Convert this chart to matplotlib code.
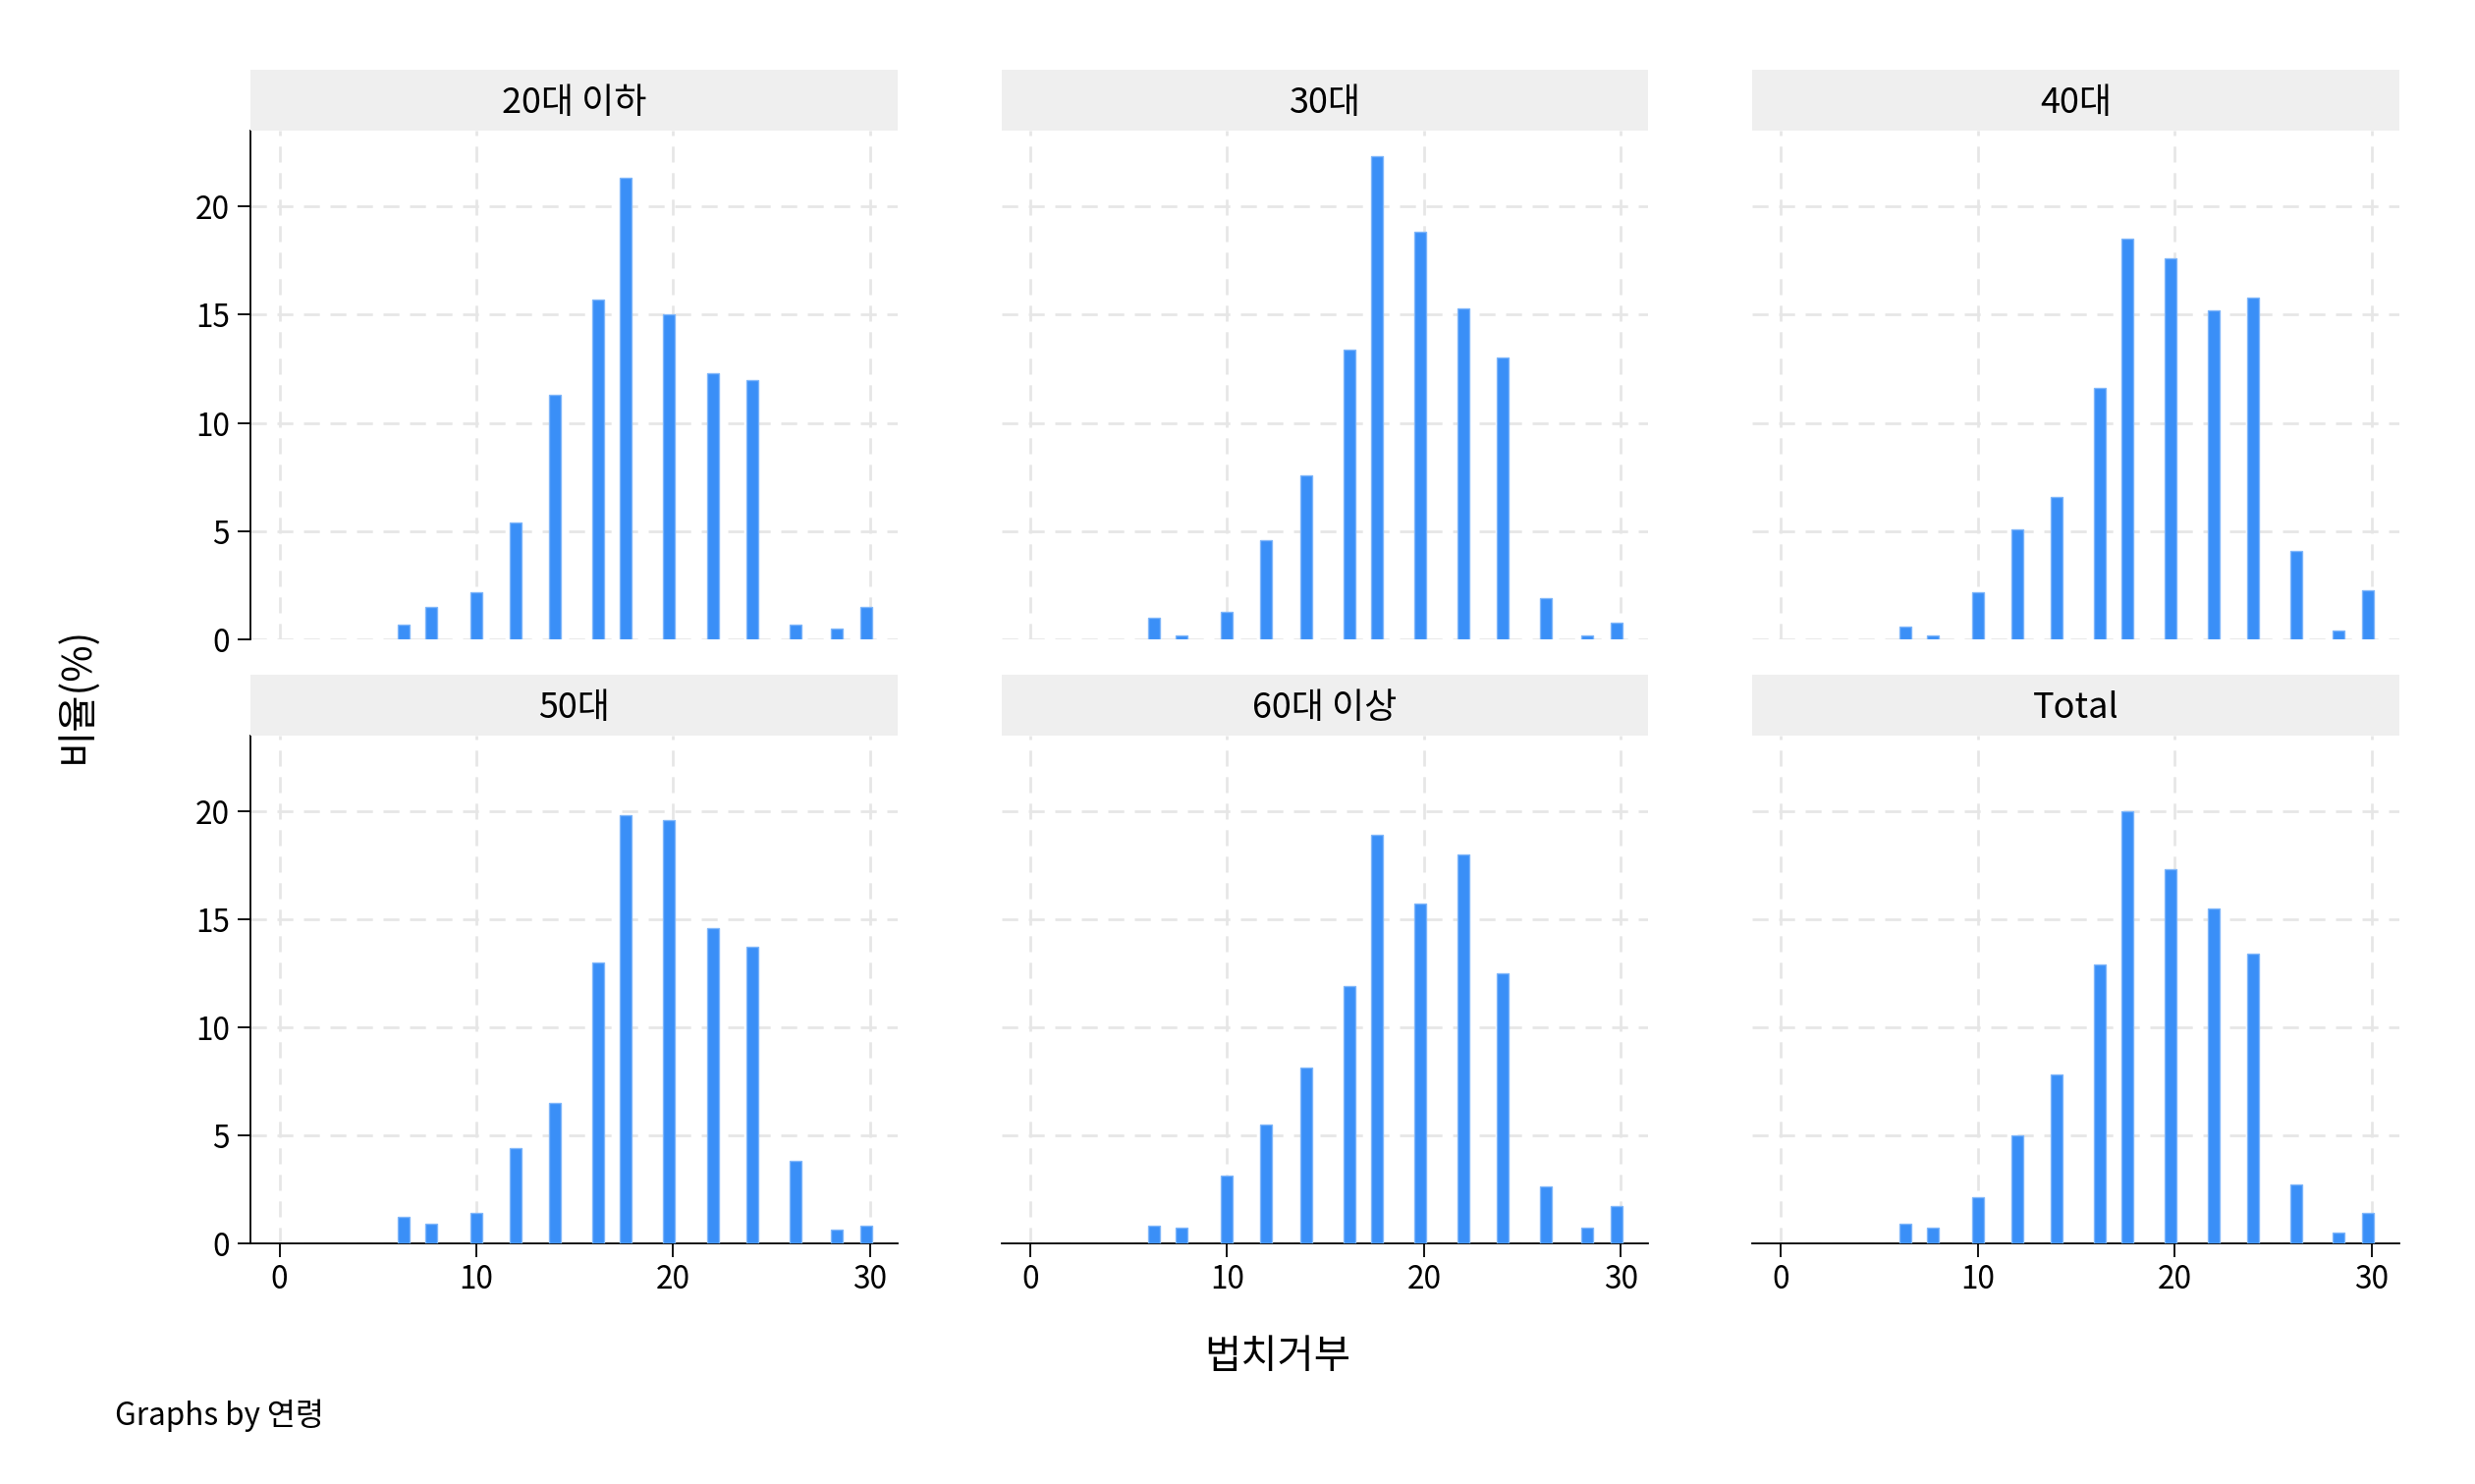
import matplotlib.pyplot as plt
from matplotlib.patches import Rectangle

plt.rcParams['font.family'] = ['Noto Sans CJK KR', 'DejaVu Sans']

# 막대 위치 (법치거부 값)
bins = [6.3, 7.7, 10, 12, 14, 16.2, 17.6, 19.8, 22, 24, 26.2, 28.3, 29.8]
groups = ['20대 이하', '30대', '40대', '50대', '60대 이상', 'Total']
pct_20 = [0.7, 1.5, 2.2, 5.4, 11.3, 15.7, 21.3, 15.0, 12.3, 12.0, 0.7, 0.5, 1.5]
pct_30 = [1.0, 0.2, 1.3, 4.6, 7.6, 13.4, 22.3, 18.8, 15.3, 13.0, 1.9, 0.2, 0.8]
pct_40 = [0.6, 0.2, 2.2, 5.1, 6.6, 11.6, 18.5, 17.6, 15.2, 15.8, 4.1, 0.4, 2.3]
pct_50 = [1.2, 0.9, 1.4, 4.4, 6.5, 13.0, 19.8, 19.6, 14.6, 13.7, 3.8, 0.6, 0.8]
pct_60 = [0.8, 0.7, 3.1, 5.5, 8.1, 11.9, 18.9, 15.7, 18.0, 12.5, 2.6, 0.7, 1.7]
pct_total = [0.9, 0.7, 2.1, 5.0, 7.8, 12.9, 20.0, 17.3, 15.5, 13.4, 2.7, 0.5, 1.4]
series = [pct_20, pct_30, pct_40, pct_50, pct_60, pct_total]

W, H = 1550, 930
fig = plt.figure(figsize=(15.56, 9.33), dpi=162)
cols = [(157, 562), (627, 1032), (1097, 1502)]
rows = [(44, 82, 401), (423, 461, 779)]

for i, (name, vals) in enumerate(zip(groups, series)):
    r, c = divmod(i, 3)
    x0, x1 = cols[c]
    ht, at, ab = rows[r]
    ax = fig.add_axes([x0 / W, 1 - ab / H, (x1 - x0) / W, (ab - at) / H])
    ax.bar(bins, vals, width=0.6, color='#3a8ff7', edgecolor='#7fb6fa', linewidth=0.6, zorder=3)
    ax.set_xlim(-1.46, 31.4)
    ax.set_ylim(0, 23.5)
    ax.set_xticks([0, 10, 20, 30])
    ax.set_yticks([0, 5, 10, 15, 20])
    ax.grid(True, color='#e6e6e6', linestyle=(0, (6, 4)), linewidth=1.2, zorder=0)
    for s in ['top', 'right']:
        ax.spines[s].set_visible(False)
    ax.spines['left'].set_visible(c == 0)
    ax.spines['bottom'].set_visible(r == 1)
    ax.tick_params(labelsize=14, length=6 if True else 0)
    if c != 0:
        ax.tick_params(axis='y', left=False, labelleft=False)
    if r != 1:
        ax.tick_params(axis='x', bottom=False, labelbottom=False)
    # 패널 제목 띠
    hax = fig.add_axes([x0 / W, 1 - at / H, (x1 - x0) / W, (at - ht) / H])
    hax.add_patch(Rectangle((0, 0), 1, 1, color='#efefef', transform=hax.transAxes))
    hax.text(0.5, 0.45, name, ha='center', va='center', fontsize=16)
    hax.axis('off')

fig.text(48 / W, 1 - 435 / H, '비율(%)', rotation=90, ha='center', va='center', fontsize=18)
fig.text(800 / W, 1 - 850 / H, '법치거부', ha='center', va='center', fontsize=18)
fig.text(72 / W, 1 - 887 / H, 'Graphs by 연령', ha='left', va='center', fontsize=14)

fig.savefig('out.png', dpi=162)
